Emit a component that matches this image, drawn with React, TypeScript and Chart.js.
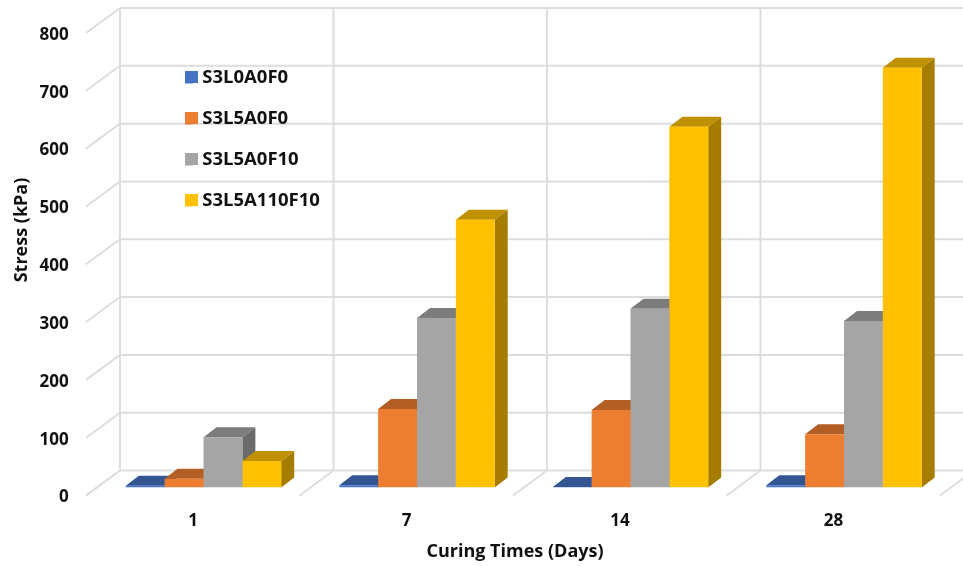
import React, { useEffect, useRef } from "react";
import { Chart, registerables } from "chart.js";

Chart.register(...registerables);

const categories = ["1", "7", "14", "28"];
const seriesNames = ["S3L0A0F0", "S3L5A0F0", "S3L5A0F10", "S3L5A110F10"];
const s3l0a0f0 = [3, 4, 1, 4];
const s3l5a0f0 = [15, 136, 134, 92];
const s3l5a0f10 = [87, 293, 309, 288];
const s3l5a110f10 = [46, 463, 624, 726];
const seriesValues = [s3l0a0f0, s3l5a0f0, s3l5a0f10, s3l5a110f10];
const seriesColors = ["#4472C4", "#ED7D31", "#A5A5A5", "#FFC000"];
const axisTickValues = [0, 100, 200, 300, 400, 500, 600, 700, 800];

const FONT = '"Open Sans", sans-serif';
const TEXT = "#111111";
const GRID = "#DDDDDD";
const LEGEND_SIZE = 18.5;
const LEGEND_PAD = 22.5;

const shade = (hex: string, k: number) => {
  const n = parseInt(hex.slice(1), 16);
  return `rgb(${Math.round(((n >> 16) & 255) * k)},${Math.round(((n >> 8) & 255) * k)},${Math.round((n & 255) * k)})`;
};

const poly = (ctx: CanvasRenderingContext2D, pts: number[][], fill: string) => {
  ctx.fillStyle = fill;
  ctx.beginPath();
  pts.forEach((p, i) => (i ? ctx.lineTo(p[0], p[1]) : ctx.moveTo(p[0], p[1])));
  ctx.closePath();
  ctx.fill();
};

const BACK = { dx: 23.25, dy: -17 };
const FRONT = { dx: -10.75, dy: 8 };
const BAR = { dx: 13, dy: -10 };

const box3d = {
  id: "box3d",
  beforeDraw(chart: any) {
    const { ctx, chartArea, scales } = chart;
    const legend = chart.legend;
    if (legend) {
      legend.left = 185 - LEGEND_PAD;
      legend.top = 68.25 - LEGEND_PAD;
    }
    const yS = scales.y;
    ctx.save();
    ctx.strokeStyle = GRID;
    ctx.lineWidth = 2;
    const seg = (a: number, b: number, c: number, d: number) => {
      ctx.beginPath();
      ctx.moveTo(a, b);
      ctx.lineTo(c, d);
      ctx.stroke();
    };
    const topY = yS.getPixelForValue(axisTickValues[axisTickValues.length - 1]) + BACK.dy;
    const botY = yS.getPixelForValue(0) + BACK.dy;
    const step = (chartArea.right - chartArea.left) / categories.length;
    for (let i = 0; i <= categories.length; i++) {
      const x = chartArea.left + step * i + BACK.dx;
      seg(x, topY, x, botY);
      seg(x, botY, x + FRONT.dx - BACK.dx, botY + FRONT.dy - BACK.dy);
    }
    axisTickValues.forEach((v) => {
      const y = yS.getPixelForValue(v) + BACK.dy;
      const x = chartArea.left + BACK.dx;
      seg(x, y, chart.width + 20, y);
      seg(x, y, x + FRONT.dx - BACK.dx, y + FRONT.dy - BACK.dy);
    });
    ctx.fillStyle = TEXT;
    ctx.font = `700 18px ${FONT}`;
    ctx.textAlign = "center";
    ctx.textBaseline = "middle";
    ctx.fillText("Curing Times (Days)", 515, 552);
    ctx.translate(22, 230);
    ctx.rotate(-Math.PI / 2);
    ctx.fillText("Stress (kPa)", 0, 0);
    ctx.restore();
  },
  beforeDatasetsDraw(chart: any) {
    const { ctx } = chart;
    ctx.save();
    categories.forEach((_, c) => {
      seriesValues.forEach((__, s) => {
        const el = chart.getDatasetMeta(s).data[c];
        const l = el.x - el.width / 2;
        const r = el.x + el.width / 2;
        const t = el.y;
        const b = el.base;
        poly(ctx, [[r, t], [r + BAR.dx, t + BAR.dy], [r + BAR.dx, b + BAR.dy], [r, b]], shade(seriesColors[s], 0.65));
        poly(ctx, [[l, t], [r, t], [r + BAR.dx, t + BAR.dy], [l + BAR.dx, t + BAR.dy]], shade(seriesColors[s], 0.75));
      });
    });
    ctx.restore();
  },
  afterDraw(chart: any) {
    const { ctx, legend } = chart;
    if (!legend) return;
    ctx.save();
    legend.legendItems.forEach((item: any, i: number) => {
      ctx.fillStyle = item.fillStyle;
      ctx.fillRect(185, 71 + i * (LEGEND_SIZE + LEGEND_PAD), 13, 12);
    });
    ctx.restore();
  },
};

export default function App() {
  const ref = useRef<HTMLCanvasElement>(null);
  useEffect(() => {
    const chart = new Chart(ref.current!, {
      type: "bar",
      data: {
        labels: categories,
        datasets: seriesNames.map((name, i) => ({
          label: name,
          data: seriesValues[i],
          backgroundColor: seriesColors[i],
          borderWidth: 0,
          categoryPercentage: 0.728,
          barPercentage: 1,
        })),
      },
      options: {
        responsive: false,
        animation: false,
        devicePixelRatio: 1,
        layout: { padding: { top: 25, right: 12.25, left: 0, bottom: 0 } },
        scales: {
          x: {
            grid: { display: false },
            border: { display: false },
            ticks: {
              labelOffset: -10.5,
              padding: 15.5,
              color: TEXT,
              font: { family: FONT, size: 17, weight: "700" },
              maxRotation: 0,
            },
            afterFit: (s: any) => {
              s.height = 78.5;
              s.paddingLeft = 0;
              s.paddingRight = 0;
            },
          },
          y: {
            min: 0,
            max: 800,
            grid: { display: false, drawTicks: false },
            border: { display: false },
            ticks: {
              stepSize: 100,
              labelOffset: 10,
              padding: 28,
              color: TEXT,
              font: { family: FONT, size: 17, weight: "700" },
            },
            afterFit: (s: any) => {
              s.width = 96.75;
              s.paddingTop = 0;
              s.paddingBottom = 0;
            },
          },
        },
        plugins: {
          tooltip: { enabled: false },
          title: { display: false },
          legend: {
            position: "chartArea",
            align: "start",
            labels: {
              boxWidth: 8,
              boxHeight: 12,
              padding: LEGEND_PAD,
              color: TEXT,
              font: { family: FONT, size: LEGEND_SIZE, weight: "700" },
            },
          },
        },
      },
      plugins: [box3d],
    } as any);
    return () => chart.destroy();
  }, []);
  return (
    <div style={{ position: "fixed", left: 0, top: 0, width: 963, height: 566, background: "#fff" }}>
      <canvas ref={ref} width={963} height={566} style={{ display: "block" }} />
    </div>
  );
}
